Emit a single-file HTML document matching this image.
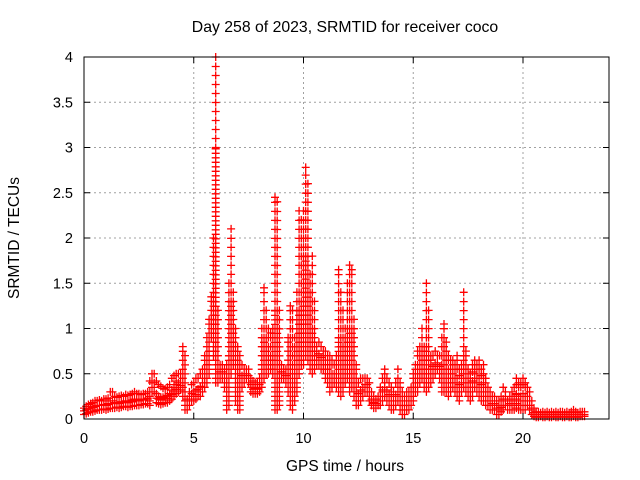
<!DOCTYPE html>
<html><head><meta charset="utf-8"><style>
html,body{margin:0;padding:0;background:#fff;}
svg{display:block;font-family:"Liberation Sans",sans-serif;}
</style></head><body>
<svg id="chart" width="640" height="480" viewBox="0 0 640 480" xmlns="http://www.w3.org/2000/svg">
<rect x="0" y="0" width="640" height="480" fill="#fff"/>
<text x="345" y="32" font-size="15.8" text-anchor="middle">Day 258 of 2023, SRMTID for receiver coco</text>
<text x="0" y="0" font-size="15.5" text-anchor="middle" transform="translate(19,238) rotate(-90)">SRMTID / TECUs</text>
<text x="345" y="471" font-size="15.5" text-anchor="middle">GPS time / hours</text>
<g id="grid"></g>
<g id="marks"></g>
<rect x="84" y="57" width="525" height="362" fill="none" stroke="#000" stroke-width="1"/>
<g id="ticks"></g>
</svg>
<script>
const xTicks=[0,5,10,15,20];
const yTicks=[0,0.5,1,1.5,2,2.5,3,3.5,4];
const yTickLabels=["0","0.5","1","1.5","2","2.5","3","3.5","4"];
const tStart=0, tStep=0.1;
const lo=[.05,.06,.07,.08,.08,.09,.1,.1,.1,.11,
.1,.11,.12,.12,.12,.13,.12,.13,.14,.14,
.13,.14,.14,.15,.15,.15,.16,.16,.17,.17,
.15,.3,.3,.18,.17,.16,.17,.18,.18,.2,
.22,.25,.28,.3,.32,.25,.1,.1,.15,.2,
.2,.22,.25,.25,.3,.35,.4,.5,.9,.7,
.4,.4,.45,.45,.35,.1,.15,.5,.6,.2,
.1,.1,.35,.4,.45,.4,.3,.28,.28,.28,
.3,.35,.45,.5,.5,.55,.5,.1,.1,.15,
.45,.45,.4,.3,.15,.1,.2,.3,.5,.6,
.6,.7,.65,.55,.5,.55,.6,.6,.55,.55,
.45,.4,.3,.35,.4,.35,.3,.25,.3,.4,
.45,.3,.35,.25,.15,.15,.2,.25,.3,.3,
.2,.15,.12,.12,.15,.15,.2,.25,.2,.15,
.1,.1,.15,.2,.1,.05,.05,.1,.1,.15,
.2,.3,.3,.4,.45,.35,.3,.35,.4,.45,
.5,.55,.45,.3,.3,.3,.25,.3,.35,.3,
.25,.2,.3,.35,.3,.25,.2,.25,.35,.3,
.25,.2,.2,.15,.15,.1,.1,.1,.05,.05,
.08,.1,.15,.1,.1,.1,.1,.12,.1,.1,
.1,.1,.15,.1,.05,.03,.02,.02,.03,.02,
.02,.03,.02,.02,.03,.02,.02,.03,.02,.02,
.03,.02,.02,.03,.02,.02,.03,.03,.03];
const mid=[.09,.1,.11,.12,.13,.14,.15,.15,.15,.16,
.16,.17,.2,.2,.18,.18,.18,.19,.19,.2,
.2,.2,.21,.22,.21,.21,.21,.22,.22,.23,
.3,.42,.4,.28,.25,.24,.24,.25,.26,.28,
.32,.38,.42,.4,.4,.45,.3,.15,.22,.28,
.3,.32,.33,.36,.4,.45,.6,.75,1.1,1.3,
3.0,.6,.52,.52,.45,.35,.7,1.3,1.0,.6,
.45,.4,.48,.48,.5,.48,.38,.35,.34,.34,
.38,.6,.9,.8,.7,.7,.7,1.2,1.0,.5,
.52,.5,.48,.55,.6,.5,.5,.8,1.2,1.2,
1.3,1.8,1.4,.9,1.0,.8,.7,.72,.68,.65,
.6,.55,.5,.5,.5,.5,.9,.8,.7,.7,
.9,1.0,1.0,.6,.35,.28,.32,.35,.38,.38,
.3,.22,.18,.17,.2,.25,.32,.4,.32,.27,
.2,.2,.27,.35,.25,.15,.15,.2,.2,.25,
.35,.45,.5,.6,.7,.55,.8,.7,.55,.58,
.62,.62,.58,.6,.6,.55,.45,.45,.5,.45,
.45,.38,.45,.7,.5,.4,.35,.42,.5,.45,
.45,.38,.4,.3,.25,.2,.17,.17,.12,.12,
.15,.22,.22,.15,.17,.2,.22,.28,.25,.25,
.28,.25,.25,.2,.12,.07,.05,.05,.05,.05,
.05,.05,.05,.05,.05,.05,.05,.05,.05,.05,
.05,.05,.05,.05,.05,.05,.05,.05,.05];
const hi=[.12,.14,.16,.17,.18,.2,.2,.21,.2,.22,
.22,.23,.3,.3,.25,.24,.25,.26,.25,.27,
.26,.27,.28,.3,.28,.28,.27,.28,.28,.3,
.42,.5,.5,.42,.38,.36,.34,.33,.35,.38,
.45,.48,.5,.5,.5,.8,.7,.22,.3,.38,
.4,.45,.45,.5,.55,.7,.9,1.1,1.35,2.0,
4.0,1.2,.6,.6,.55,.6,1.5,2.1,1.4,1.0,
.8,.7,.6,.55,.55,.55,.45,.42,.4,.4,
.45,1.0,1.45,1.2,1.0,.95,1.0,2.45,2.4,1.2,
.6,.55,.55,.9,1.25,1.2,.9,1.4,2.3,2.2,
2.3,2.78,2.6,1.6,1.8,1.3,.8,.85,.8,.75,
.75,.7,.7,.65,.6,.7,1.65,1.4,1.2,1.0,
1.5,1.7,1.65,1.1,.6,.4,.45,.45,.45,.45,
.4,.3,.25,.22,.25,.35,.45,.55,.45,.4,
.35,.3,.4,.55,.4,.3,.25,.3,.3,.35,
.5,.6,.75,.8,1.0,.8,1.5,1.2,.7,.7,
.75,.7,.7,.9,1.05,.85,.7,.65,.65,.6,
.7,.55,.6,1.4,.75,.55,.5,.6,.65,.6,
.65,.55,.6,.45,.35,.3,.25,.25,.2,.2,
.25,.35,.3,.2,.25,.3,.35,.45,.4,.4,
.45,.4,.35,.3,.2,.12,.08,.08,.07,.08,
.07,.08,.07,.08,.07,.08,.07,.08,.08,.07,
.08,.07,.08,.1,.08,.07,.08,.08,.08];

const X0=84,X1=609,Y0=419,Y1=57;
const xScale=h=>X0+h*21.95;
const yScale=v=>Y0-(v/4)*(Y0-Y1);
const NS="http://www.w3.org/2000/svg";
const grid=document.getElementById('grid');
const ticks=document.getElementById('ticks');
const marks=document.getElementById('marks');
function mk(tag,attrs,parent){const e=document.createElementNS(NS,tag);for(const k in attrs)e.setAttribute(k,attrs[k]);parent.appendChild(e);return e;}

yTicks.forEach((v,i)=>{
  const y=yScale(v);
  if(i>0&&i<yTicks.length-1){
    const g=mk('line',{x1:X0,x2:X1,y1:y,y2:y,stroke:'#a0a0a0','stroke-dasharray':'2,3','stroke-width':1},grid);
    
    
  }
  const t1=mk('line',{x1:X0,x2:X0+6,y1:y,y2:y,stroke:'#000'},ticks);
  
  
  const t2=mk('line',{x1:X1-6,x2:X1,y1:y,y2:y,stroke:'#000'},ticks);
  
  
  const l=mk('text',{x:X0-11,y:y+5,'font-size':14.5,'text-anchor':'end'},ticks);
  l.textContent=yTickLabels[i];
  
  
});
xTicks.forEach(h=>{
  const x=xScale(h);
  if(h>0){
    const g=mk('line',{x1:x,x2:x,y1:Y1,y2:Y0,stroke:'#a0a0a0','stroke-dasharray':'2,3','stroke-width':1},grid);
    
    
  }
  const t1=mk('line',{x1:x,x2:x,y1:Y0,y2:Y0-6,stroke:'#000'},ticks);
  
  
  const t2=mk('line',{x1:x,x2:x,y1:Y1,y2:Y1+6,stroke:'#000'},ticks);
  
  
  const l=mk('text',{x:x,y:Y0+24,'font-size':14.5,'text-anchor':'middle'},ticks);
  l.textContent=String(h);
  
  
});

let d='';
function plusPx(x,y){d+=`M${(x-4).toFixed(1)} ${y.toFixed(1)}h8M${x.toFixed(1)} ${(y-4).toFixed(1)}v8`;}
for(let i=0;i<lo.length;i++){
  const x=xScale(tStart+i*tStep);
  const yl=yScale(lo[i]), ym=yScale(mid[i]), yh=yScale(hi[i]);
  for(let y=yl;y>ym;y-=4.5) plusPx(x,y);
  plusPx(x,ym);
  for(let y=ym-9;y>yh+4;y-=9) plusPx(x,y);
  plusPx(x,yh);
}
const p=mk('path',{d:d,stroke:'#ff0000','stroke-width':1.3,fill:'none'},marks);


</script>
</body></html>
